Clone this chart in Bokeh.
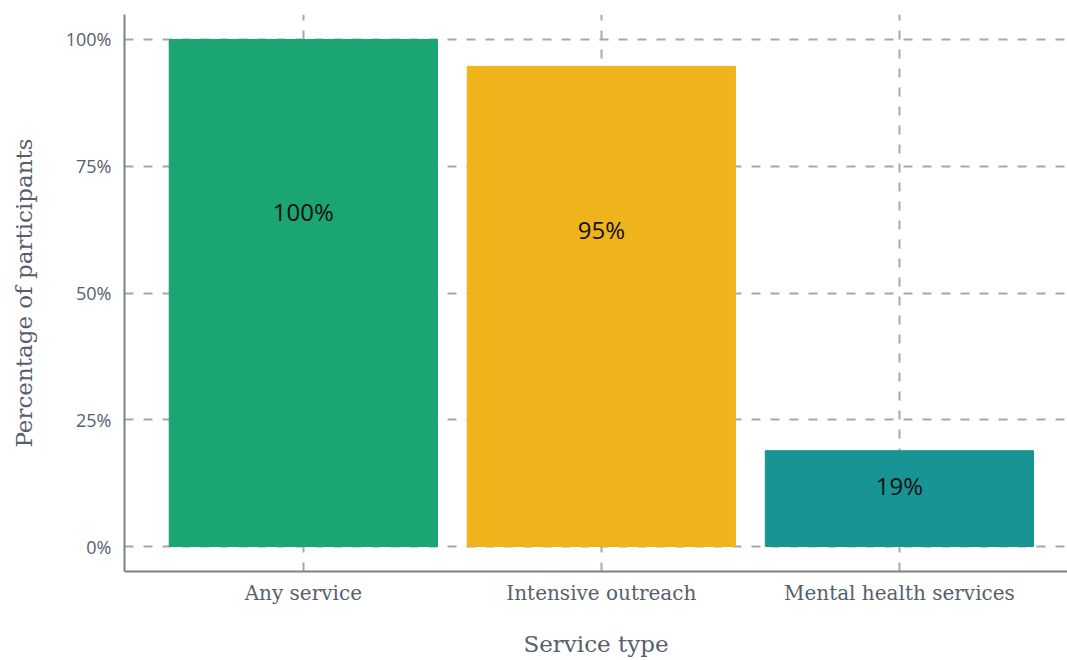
from bokeh.plotting import figure
from bokeh.models import Range1d, FixedTicker, ColumnDataSource
from bokeh.embed import file_html
from bokeh.resources import INLINE
from bokeh.core.properties import value

categories = ["Any service", "Intensive outreach", "Mental health services"]
values = [100.0, 94.7, 18.9]
labels = ["100%", "95%", "19%"]
colors = ["#1aa573", "#efb41b", "#199494"]
y_ticks = [0, 25, 50, 75, 100]
y_tick_labels = ["0%", "25%", "50%", "75%", "100%"]

xs = list(range(1, len(categories) + 1))
src = ColumnDataSource(dict(x=xs, top=values, color=colors, label=labels,
                            ly=[v * 2 / 3 for v in values]))

W, H = 1067, 660
p = figure(width=W, height=H, output_backend="svg", toolbar_location=None,
           x_range=Range1d(0.4, 3.564), y_range=Range1d(-4.93, 104.93),
           min_border_left=124, min_border_right=0, min_border_top=14,
           min_border_bottom=89)
p.outline_line_color = None
p.background_fill_color = "white"

p.vbar(x="x", top="top", bottom=0, width=0.9, color="color", source=src)
p.text(x="x", y="ly", text="label", source=src, text_align="center",
       text_baseline="middle", y_offset=3, text_color="#111111",
       text_font=value("Open Sans"), text_font_size="24px")

grid_color = "#a6a8ad"
for g in (p.xgrid, p.ygrid):
    g.grid_line_color = grid_color
    g.grid_line_width = 2
    g.grid_line_dash = "9 10"

axis_color = "#7b818a"
text_color = "#56606b"

p.xaxis.ticker = FixedTicker(ticks=xs)
p.xaxis.major_label_overrides = {x: c for x, c in zip(xs, categories)}
p.yaxis.ticker = FixedTicker(ticks=y_ticks)
p.yaxis.major_label_overrides = {t: l for t, l in zip(y_ticks, y_tick_labels)}

for ax in (p.xaxis, p.yaxis):
    ax.axis_line_color = axis_color
    ax.axis_line_width = 2
    ax.major_tick_line_color = None
    ax.minor_tick_line_color = None
    ax.major_tick_out = 0
    ax.major_tick_in = 0
    ax.major_label_text_color = text_color
    ax.axis_label_text_color = text_color
    ax.axis_label_text_font_style = "normal"
    ax.axis_label_text_font = "DejaVu Serif"
    ax.axis_label_text_font_size = "23px"

p.xaxis.major_label_text_font = "DejaVu Serif"
p.xaxis.major_label_text_font_size = "20px"
p.xaxis.major_label_standoff = 9
p.xaxis.axis_label = "Service type"
p.xaxis.axis_label_standoff = 23

p.yaxis.major_label_text_font = "Open Sans"
p.yaxis.major_label_text_font_size = "18px"
p.yaxis.major_label_standoff = 13
p.yaxis.axis_label = "Percentage of participants"
p.yaxis.axis_label_standoff = 26

open("out.html", "w").write(file_html(p, INLINE))
